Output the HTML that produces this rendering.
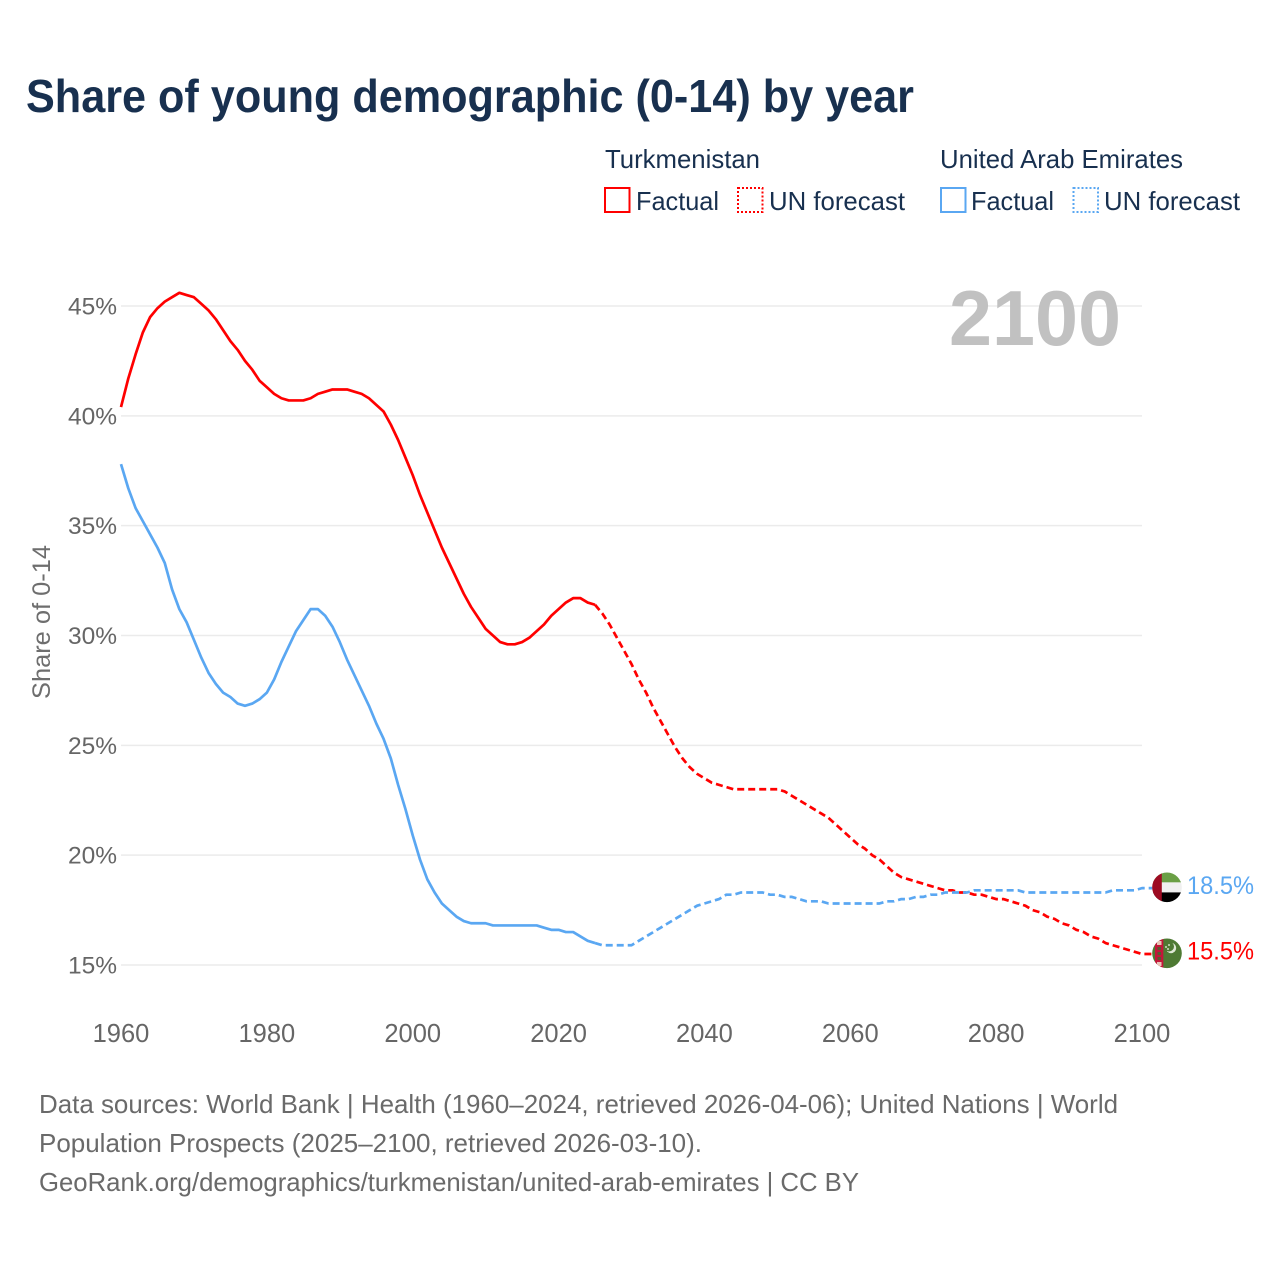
<!DOCTYPE html>
<html lang="en">
<head>
<meta charset="utf-8">
<title>Share of young demographic (0-14) by year</title>
<style>
html,body{margin:0;padding:0;background:#fff;}
svg{display:block;font-family:"Liberation Sans",sans-serif;}
</style>
</head>
<body>
<svg id="chart" width="1280" height="1280" viewBox="0 0 1280 1280" xmlns="http://www.w3.org/2000/svg">
  <rect width="1280" height="1280" fill="#ffffff"/>
  <text x="26" y="112" font-size="46" font-weight="700" fill="#18304f" textLength="888" lengthAdjust="spacingAndGlyphs">Share of young demographic (0-14) by year</text>

  <g font-size="26" fill="#18304f">
    <text x="605" y="168" textLength="155" lengthAdjust="spacingAndGlyphs">Turkmenistan</text>
    <rect x="605" y="188" width="24.5" height="24" fill="none" stroke="#ff0000" stroke-width="2"/>
    <text x="636" y="210" textLength="83" lengthAdjust="spacingAndGlyphs">Factual</text>
    <rect x="738" y="188" width="24.5" height="24" fill="none" stroke="#ff0000" stroke-width="2" stroke-dasharray="2 2"/>
    <text x="769" y="210" textLength="136" lengthAdjust="spacingAndGlyphs">UN forecast</text>
    <text x="940" y="168" textLength="243" lengthAdjust="spacingAndGlyphs">United Arab Emirates</text>
    <rect x="941" y="188" width="24.5" height="24" fill="none" stroke="#5aa7f2" stroke-width="2"/>
    <text x="971" y="210" textLength="83" lengthAdjust="spacingAndGlyphs">Factual</text>
    <rect x="1073.5" y="188" width="24.5" height="24" fill="none" stroke="#5aa7f2" stroke-width="2" stroke-dasharray="2 2"/>
    <text x="1104" y="210" textLength="136" lengthAdjust="spacingAndGlyphs">UN forecast</text>
  </g>

  <g id="grid"></g>
  <text x="949" y="345" font-size="78" font-weight="700" fill="#bfbfbf" fill-opacity="0.97" textLength="172" lengthAdjust="spacingAndGlyphs">2100</text>
  <g id="yticks" font-size="24.5" fill="#666666" text-anchor="end"></g>
  <g id="xticks" font-size="25.5" fill="#666666" text-anchor="middle"></g>
  <text transform="translate(50,622) rotate(-90)" font-size="25" fill="#6e6e6e" text-anchor="middle" textLength="154" lengthAdjust="spacingAndGlyphs">Share of 0-14</text>
  <g id="lines" fill="none" stroke-width="2.7" stroke-linejoin="round"></g>

  <g>
    <clipPath id="clip-uae"><circle cx="1167" cy="887.3" r="14.8"/></clipPath>
    <g clip-path="url(#clip-uae)">
      <rect x="1150" y="870" width="34" height="12.4" fill="#6a9f45"/>
      <rect x="1150" y="882.4" width="34" height="10" fill="#f0f0f0"/>
      <rect x="1150" y="892.4" width="34" height="12" fill="#000000"/>
      <rect x="1150" y="870" width="11.8" height="34" fill="#9d0b22"/>
    </g>
  </g>
  <g>
    <clipPath id="clip-tm"><circle cx="1167" cy="953.3" r="14.8"/></clipPath>
    <g clip-path="url(#clip-tm)">
      <rect x="1150" y="936" width="34" height="36" fill="#4e7a33"/>
      <rect x="1155" y="936" width="8.3" height="36" fill="#c3173a"/>
      <rect x="1157" y="941" width="4.5" height="4" fill="#e8c6b8"/>
      <rect x="1157.5" y="947" width="3.5" height="3" fill="#5a5a30"/>
      <rect x="1157.5" y="952" width="3.5" height="3" fill="#5a5a30"/>
      <rect x="1157.5" y="957" width="3.5" height="3" fill="#5a5a30"/>
      <rect x="1157" y="962" width="4.5" height="4" fill="#e8c6b8"/>
      <circle cx="1171" cy="948" r="5.2" fill="#dfe8d5"/>
      <circle cx="1169" cy="946.5" r="5" fill="#4e7a33"/>
      <circle cx="1169" cy="945" r="1" fill="#cfdcc2"/>
      <circle cx="1166" cy="947" r="1" fill="#cfdcc2"/>
      <circle cx="1168" cy="949" r="1" fill="#cfdcc2"/>
    </g>
  </g>
  <text x="1187" y="894" font-size="25" fill="#5aa7f2" textLength="67" lengthAdjust="spacingAndGlyphs">18.5%</text>
  <text x="1187" y="959.5" font-size="25" fill="#ff0000" textLength="67" lengthAdjust="spacingAndGlyphs">15.5%</text>

  <g font-size="26" fill="#6a6a6a">
    <text x="39" y="1113" textLength="1079" lengthAdjust="spacingAndGlyphs">Data sources: World Bank | Health (1960–2024, retrieved 2026-04-06); United Nations | World</text>
    <text x="39" y="1152" textLength="663" lengthAdjust="spacingAndGlyphs">Population Prospects (2025–2100, retrieved 2026-03-10).</text>
    <text x="39" y="1191" textLength="820" lengthAdjust="spacingAndGlyphs">GeoRank.org/demographics/turkmenistan/united-arab-emirates | CC BY</text>
  </g>
</svg>
<script>
const firstYear = 1960;
const lastFactualYear = 2025;
const yTickValues = [15, 20, 25, 30, 35, 40, 45];
const xTickValues = [1960, 1980, 2000, 2020, 2040, 2060, 2080, 2100];
const turkmenistanValues = [
40.4,41.7,42.8,43.8,44.5,44.9,45.2,45.4,45.6,45.5,
45.4,45.1,44.8,44.4,43.9,43.4,43.0,42.5,42.1,41.6,
41.3,41.0,40.8,40.7,40.7,40.7,40.8,41.0,41.1,41.2,
41.2,41.2,41.1,41.0,40.8,40.5,40.2,39.6,38.9,38.1,
37.3,36.4,35.6,34.8,34.0,33.3,32.6,31.9,31.3,30.8,
30.3,30.0,29.7,29.6,29.6,29.7,29.9,30.2,30.5,30.9,
31.2,31.5,31.7,31.7,31.5,31.4,31.0,30.5,29.9,29.3,
28.7,28.0,27.4,26.7,26.1,25.5,24.9,24.4,24.0,23.7,
23.5,23.3,23.2,23.1,23.0,23.0,23.0,23.0,23.0,23.0,
23.0,22.9,22.7,22.5,22.3,22.1,21.9,21.7,21.4,21.1,
20.8,20.5,20.3,20.0,19.8,19.5,19.2,19.0,18.9,18.8,
18.7,18.6,18.5,18.4,18.4,18.3,18.3,18.2,18.2,18.1,
18.0,18.0,17.9,17.8,17.7,17.5,17.4,17.2,17.1,16.9,
16.8,16.6,16.5,16.3,16.2,16.0,15.9,15.8,15.7,15.6,
15.5];
const uaeValues = [
37.8,36.7,35.8,35.2,34.6,34.0,33.3,32.1,31.2,30.6,
29.8,29.0,28.3,27.8,27.4,27.2,26.9,26.8,26.9,27.1,
27.4,28.0,28.8,29.5,30.2,30.7,31.2,31.2,30.9,30.4,
29.7,28.9,28.2,27.5,26.8,26.0,25.3,24.4,23.2,22.1,
20.9,19.8,18.9,18.3,17.8,17.5,17.2,17.0,16.9,16.9,
16.9,16.8,16.8,16.8,16.8,16.8,16.8,16.8,16.7,16.6,
16.6,16.5,16.5,16.3,16.1,16.0,15.9,15.9,15.9,15.9,
15.9,16.1,16.3,16.5,16.7,16.9,17.1,17.3,17.5,17.7,
17.8,17.9,18.0,18.2,18.2,18.3,18.3,18.3,18.3,18.2,
18.2,18.1,18.1,18.0,17.9,17.9,17.9,17.8,17.8,17.8,
17.8,17.8,17.8,17.8,17.8,17.9,17.9,18.0,18.0,18.1,
18.1,18.2,18.2,18.3,18.3,18.3,18.3,18.4,18.4,18.4,
18.4,18.4,18.4,18.4,18.3,18.3,18.3,18.3,18.3,18.3,
18.3,18.3,18.3,18.3,18.3,18.3,18.4,18.4,18.4,18.4,
18.5];

const NS = 'http://www.w3.org/2000/svg';
function xScale(year) { return 121 + (year - 1960) * (1142 - 121) / 140; }
function yScale(v) { return 965 - (v - 15) * (965 - 306) / 30; }
function make(tag, attrs, parent) {
  const el = document.createElementNS(NS, tag);
  for (const k in attrs) el.setAttribute(k, attrs[k]);
  parent.appendChild(el);
  return el;
}
const gridG = document.getElementById('grid');
const yTickG = document.getElementById('yticks');
const xTickG = document.getElementById('xticks');
const linesG = document.getElementById('lines');

yTickValues.forEach(function (v) {
  const line = make('line', {x1: 121, x2: 1142, y1: yScale(v), y2: yScale(v), stroke: '#ebebeb', 'stroke-width': 1.5}, gridG);
  
  
  const t = make('text', {x: 117, y: yScale(v) + 8.5}, yTickG);
  
  
  t.textContent = v + '%';
});
xTickValues.forEach(function (yr) {
  const t = make('text', {x: xScale(yr), y: 1042}, xTickG);
  
  
  t.textContent = String(yr);
});

function pathFor(values, fromYear, toYear, extra) {
  const pts = [];
  values.forEach(function (v, i) {
    const yr = firstYear + i;
    if (yr >= fromYear && yr <= toYear) pts.push(xScale(yr).toFixed(2) + ',' + yScale(v).toFixed(2));
  });
  if (extra) pts.push(extra);
  return 'M' + pts.join('L');
}
function drawSeries(values, color, key) {
  const solid = make('path', {d: pathFor(values, firstYear, lastFactualYear), stroke: color}, linesG);
  
  
  const endY = yScale(values[values.length - 1]).toFixed(2);
  const dashed = make('path', {d: pathFor(values, lastFactualYear, 2100, '1167,' + endY), stroke: color, 'stroke-dasharray': '7 4'}, linesG);
  
  
}
drawSeries(turkmenistanValues, '#ff0000', 'turkmenistan');
drawSeries(uaeValues, '#5aa7f2', 'uae');
</script>
</body>
</html>
